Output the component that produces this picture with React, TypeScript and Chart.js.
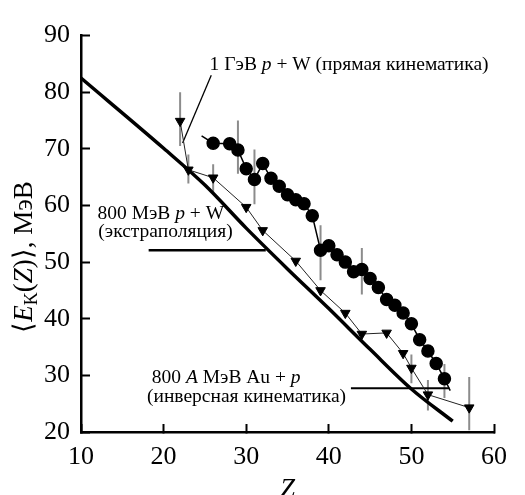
import React, { useEffect, useRef } from "react";
import { Chart, registerables } from "chart.js";
Chart.register(...registerables);

const FONT = '"Liberation Serif", "Times New Roman", serif';

// heavy curve: 800 MeV p + W (extrapolation)
const heavyZ = [10, 20, 25, 30, 35, 40, 45, 50, 55];
const heavyE = [82.5, 70.1, 63.6, 56.0, 48.8, 41.8, 34.6, 27.6, 21.9];

// triangles: 800 A MeV Au + p (inverse kinematics)
const triZ = [22, 23, 26, 30, 32, 36, 39, 42, 44, 47, 49, 50, 52, 57];
const triE = [74.9, 66.3, 64.9, 59.7, 55.6, 50.2, 45.0, 41.0, 37.3, 37.5, 33.9, 31.3, 26.6, 24.3];

// circles: 1 GeV p + W (direct kinematics); first and last entries are line ends without marker
const circZ = [24.6, 26, 28, 29, 30, 31, 32, 33, 34, 35, 36, 37, 38, 39, 40, 41, 42, 43, 44, 45, 46, 47, 48, 49, 50, 51, 52, 53, 54, 54.7];
const circE = [72.3, 71.0, 70.9, 69.8, 66.5, 64.6, 67.4, 64.8, 63.4, 61.9, 61.0, 60.3, 58.2, 52.1, 52.9, 51.3, 50.0, 48.3, 48.7, 47.1, 45.5, 43.4, 42.4, 41.0, 39.1, 36.3, 34.3, 32.1, 29.4, 27.3];
const circMarker = circZ.map((_, i) => (i === 0 || i === circZ.length - 1 ? 0 : 6));

// error bars
const errZ = [22, 23, 26, 29, 31, 39, 44, 50, 52, 54, 57];
const errLo = [70.5, 63.9, 62.2, 65.6, 60.2, 46.8, 44.3, 28.6, 23.8, 26.0, 20.3];
const errHi = [80.0, 69.0, 67.3, 75.0, 69.9, 56.5, 52.5, 33.7, 29.2, 32.0, 29.7];

// axis ticks
const xTicks = [10, 20, 30, 40, 50, 60];
const yTicks = [20, 30, 40, 50, 60, 70, 80, 90];

// annotations (text runs: n = normal, i = italic, s = subscript)
type Run = [string, string];
const noteRuns: Run[][] = [
  [["1 ГэВ ", "n"], ["p", "i"], [" + W (прямая кинематика)", "n"]],
  [["800 МэВ ", "n"], ["p", "i"], [" + W", "n"]],
  [["(экстраполяция)", "n"]],
  [["800 ", "n"], ["A", "i"], [" МэВ Au + ", "n"], ["p", "i"]],
  [["(инверсная кинематика)", "n"]],
];
const noteZ = [25.57, 12.0, 12.1, 18.57, 17.99];
const noteE = [84.9, 58.6, 55.3, 29.6, 26.2];

const leaderZ = [[25.77, 22.3], [18.19, 32.37], [42.68, 54.6]];
const leaderE = [[83.0, 71.05], [52.1, 52.1], [27.73, 27.73]];
const leaderW = [1.3, 2.5, 2];

const yTitleRuns: Run[] = [["⟨", "n"], ["E", "i"], ["K", "s"], ["(", "n"], ["Z", "i"], [")⟩, МэВ", "n"]];
const xTitle = "Z";

function setFont(ctx: CanvasRenderingContext2D, style: string, size: number) {
  if (style === "i") ctx.font = `italic ${size}px ${FONT}`;
  else if (style === "s") ctx.font = `${Math.round(size * 0.68)}px ${FONT}`;
  else ctx.font = `${size}px ${FONT}`;
}
function measureRuns(ctx: CanvasRenderingContext2D, runs: Run[], size: number) {
  let w = 0;
  for (const [t, s] of runs) {
    setFont(ctx, s, size);
    w += ctx.measureText(t).width;
  }
  return w;
}
function drawRuns(ctx: CanvasRenderingContext2D, runs: Run[], x: number, y: number, size: number) {
  let cx = x;
  for (const [t, s] of runs) {
    setFont(ctx, s, size);
    ctx.fillText(t, cx, s === "s" ? y + size * 0.28 : y);
    cx += ctx.measureText(t).width;
  }
}

const textPlugin = {
  id: "texts",
  afterDraw(chart: any) {
    const { ctx, scales, chartArea } = chart;
    const xs = scales.x;
    const ys = scales.y;
    ctx.save();
    ctx.fillStyle = "#000";
    ctx.textBaseline = "middle";
    ctx.textAlign = "left";
    noteRuns.forEach((runs, i) => {
      drawRuns(ctx, runs, xs.getPixelForValue(noteZ[i]), ys.getPixelForValue(noteE[i]), 19.5);
    });
    ctx.textAlign = "center";
    ctx.font = `italic 27px ${FONT}`;
    ctx.fillText(xTitle, (chartArea.left + chartArea.right) / 2, 490);
    ctx.textAlign = "left";
    ctx.translate(25, 257);
    ctx.rotate(-Math.PI / 2);
    const w = measureRuns(ctx, yTitleRuns, 27);
    drawRuns(ctx, yTitleRuns, -w / 2, 0, 27);
    ctx.restore();
  },
};

export default function App() {
  const ref = useRef<HTMLCanvasElement>(null);
  useEffect(() => {
    document.body.style.margin = "0";
    const errData: any[] = [];
    errZ.forEach((z, i) => {
      errData.push({ x: z, y: errLo[i] }, { x: z, y: errHi[i] }, { x: z, y: null });
    });
    const leaderSets = leaderZ.map((zs, i) => ({
      data: zs.map((z, j) => ({ x: z, y: leaderE[i][j] })),
      borderColor: "#000",
      borderWidth: leaderW[i],
      pointRadius: 0,
    }));
    const chart = new Chart(ref.current!, {
      type: "line",
      data: {
        datasets: [
          {
            data: circZ.map((z, i) => ({ x: z, y: circE[i] })),
            borderColor: "#000",
            borderWidth: 1.5,
            pointRadius: circMarker,
            pointBackgroundColor: "#000",
            pointBorderColor: "#000",
            pointStyle: "circle",
          },
          {
            data: triZ.map((z, i) => ({ x: z, y: triE[i] })),
            borderColor: "#222",
            borderWidth: 1,
            pointRadius: 5.5,
            pointStyle: "triangle",
            rotation: 180,
            pointBackgroundColor: "#000",
            pointBorderColor: "#000",
          },
          {
            data: heavyZ.map((z, i) => ({ x: z, y: heavyE[i] })),
            borderColor: "#000",
            borderWidth: 3.5,
            pointRadius: 0,
            cubicInterpolationMode: "monotone",
          },
          ...leaderSets,
          {
            data: errData,
            borderColor: "#8c8c8c",
            borderWidth: 2,
            pointRadius: 0,
            spanGaps: false,
          },
        ] as any,
      },
      options: {
        animation: false,
        responsive: false,
        layout: { padding: { top: 22, right: 15, left: 0, bottom: 0 } },
        plugins: { legend: { display: false }, tooltip: { enabled: false } },
        scales: {
          x: {
            type: "linear",
            min: 10,
            max: 60,
            afterFit: (s: any) => {
              s.height = 63;
            },
            afterBuildTicks: (s: any) => {
              s.ticks = xTicks.map((v) => ({ value: v }));
            },
            border: { color: "#000", width: 2.5 },
            grid: { drawOnChartArea: false, drawTicks: true, tickLength: -8, tickWidth: 2, tickColor: "#000" },
            ticks: { color: "#000", padding: 18, font: { family: FONT, size: 26 }, maxRotation: 0 },
          },
          y: {
            type: "linear",
            min: 20,
            max: 90,
            afterFit: (s: any) => {
              s.width = 81;
            },
            afterBuildTicks: (s: any) => {
              s.ticks = yTicks.map((v) => ({ value: v }));
            },
            border: { color: "#000", width: 2.5 },
            grid: { drawOnChartArea: false, drawTicks: true, tickLength: -9, tickWidth: 2, tickColor: "#000" },
            ticks: { color: "#000", padding: 20, font: { family: FONT, size: 26 } },
          },
        },
      },
      plugins: [textPlugin],
    });
    return () => chart.destroy();
  }, []);
  return (
    <div style={{ width: 525, height: 495, position: "relative", background: "#fff" }}>
      <canvas ref={ref} width={525} height={495} />
    </div>
  );
}
